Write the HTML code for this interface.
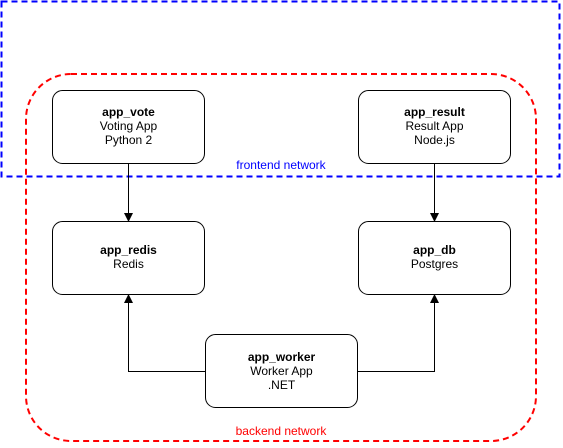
<!DOCTYPE html>
<html><head><style>body{margin:0;background:#fff}</style></head><body>
<svg width="563" height="443" xmlns="http://www.w3.org/2000/svg" font-family="Liberation Sans, Arial, sans-serif" font-size="12">
<rect x="1.5" y="1.5" width="558" height="175" fill="none" stroke="#0000ff" stroke-width="2" stroke-dasharray="6,4"/>
<rect x="26" y="74" width="510" height="367" rx="45" fill="none" stroke="#ff0000" stroke-width="2" stroke-dasharray="6,4"/>
<text x="281" y="169" fill="#0000ff" text-anchor="middle">frontend network</text>
<text x="281" y="435" fill="#ff0000" text-anchor="middle">backend network</text>
<g fill="#fff" stroke="#000" stroke-width="1">
<rect x="52.5" y="90.5" width="152" height="73" rx="10"/>
<rect x="358.5" y="90.5" width="152" height="73" rx="10"/>
<rect x="52.5" y="221.5" width="152" height="73" rx="10"/>
<rect x="358.5" y="221.5" width="152" height="73" rx="10"/>
<rect x="205.5" y="334.5" width="152" height="73" rx="10"/>
</g>
<g stroke="#000" fill="none">
<path d="M128.5 163.5V214"/><path d="M434.5 163.5V214"/>
<path d="M205.5 371.5H128.5V302"/><path d="M357.5 371.5H434.5V302"/>
</g>
<g fill="#000">
<path d="M124 213l4.5 9 4.5-9z"/><path d="M430 213l4.5 9 4.5-9z"/>
<path d="M124 303l4.5-9 4.5 9z"/><path d="M430 303l4.5-9 4.5 9z"/>
</g>
<g text-anchor="middle" fill="#000">
<text x="128.5" y="116"><tspan font-weight="bold">app_vote</tspan><tspan x="128.5" dy="14">Voting App</tspan><tspan x="128.5" dy="14">Python 2</tspan></text>
<text x="434.5" y="116"><tspan font-weight="bold">app_result</tspan><tspan x="434.5" dy="14">Result App</tspan><tspan x="434.5" dy="14">Node.js</tspan></text>
<text x="128.5" y="254"><tspan font-weight="bold">app_redis</tspan><tspan x="128.5" dy="14">Redis</tspan></text>
<text x="434.5" y="254"><tspan font-weight="bold">app_db</tspan><tspan x="434.5" dy="14">Postgres</tspan></text>
<text x="281.5" y="361"><tspan font-weight="bold">app_worker</tspan><tspan x="281.5" dy="14">Worker App</tspan><tspan x="281.5" dy="14">.NET</tspan></text>
</g>
</svg>
</body></html>
